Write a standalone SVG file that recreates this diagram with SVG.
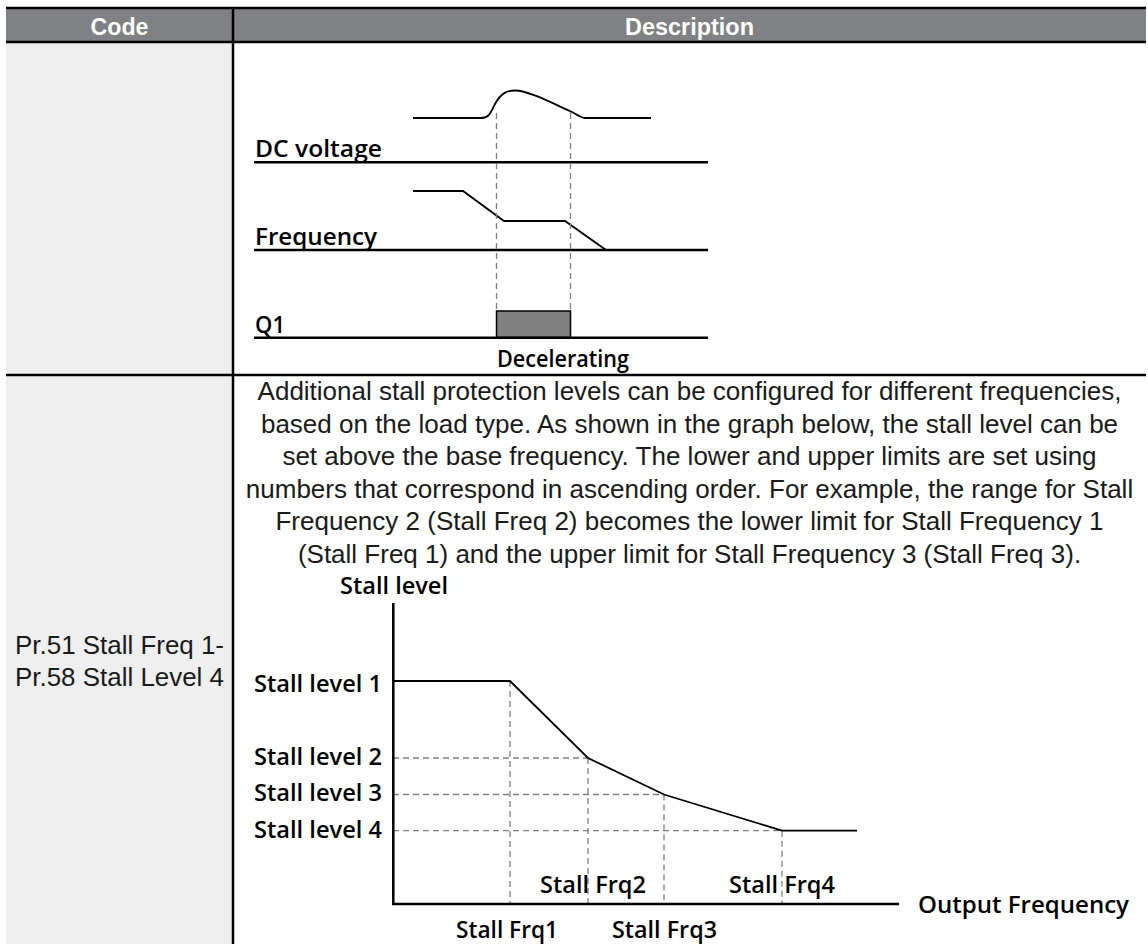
<svg xmlns="http://www.w3.org/2000/svg" width="1148" height="944" viewBox="0 0 1148 944">
<style>
.hdr{font-family:"Liberation Sans",Arial,sans-serif;font-weight:bold;font-size:24px;fill:#ffffff}
.body{font-family:"Liberation Sans",Arial,sans-serif;font-size:26px;fill:#1a1a1a}
.lbl{font-family:"Open Sans","Noto Sans",sans-serif;font-weight:600;font-size:24px;fill:#000}
.tl{font-family:"Open Sans","Noto Sans",sans-serif;font-weight:600;font-size:22.5px;fill:#000}
.rule{stroke:#000;stroke-width:2.5;fill:none}
.sig{stroke:#000;stroke-width:1.8;fill:none}
.dash{stroke:#808080;stroke-width:1.3;stroke-dasharray:6 4;fill:none}
</style>
<rect width="1148" height="944" fill="#ffffff"/>
<g id="table">
  <rect x="6" y="42" width="227" height="902" fill="#efefef"/>
  <rect x="6" y="8" width="1140" height="34" fill="#808184"/>
  <line class="rule" x1="6" y1="8" x2="1146" y2="8"/>
  <line class="rule" x1="6" y1="42" x2="1146" y2="42"/>
  <line class="rule" x1="233" y1="8" x2="233" y2="944"/>
  <line class="rule" x1="6" y1="375" x2="1146" y2="375"/>
  <text class="hdr" x="119.5" y="35" text-anchor="middle" textLength="58" lengthAdjust="spacingAndGlyphs">Code</text>
  <text class="hdr" x="689.5" y="35" text-anchor="middle" textLength="129" lengthAdjust="spacingAndGlyphs">Description</text>
  <text class="body" x="15" y="654" textLength="209" lengthAdjust="spacingAndGlyphs">Pr.51 Stall Freq 1-</text>
  <text class="body" x="15" y="686" textLength="209" lengthAdjust="spacingAndGlyphs">Pr.58 Stall Level 4</text>
</g>
<g id="timing">
  <text class="tl" x="255" y="157" textLength="127" lengthAdjust="spacingAndGlyphs">DC voltage</text>
  <line class="rule" x1="254" y1="162.3" x2="708" y2="162.3"/>
  <path class="sig" d="M413,118 H482 C489,118 491,112 495,104 C501,93 507,90.5 515,90.5 C528,90.5 552,103 572,112 C576,114 580,117 584,118 H651"/>
  <text class="tl" x="255" y="245" textLength="122" lengthAdjust="spacingAndGlyphs">Frequency</text>
  <line class="rule" x1="254" y1="250" x2="708" y2="250"/>
  <path class="sig" d="M413,191 H463 L504,221 H565 L606,250"/>
  <line class="dash" x1="496.5" y1="113" x2="496.5" y2="311"/>
  <line class="dash" x1="570.5" y1="113" x2="570.5" y2="311"/>
  <text class="tl" x="255" y="333" textLength="30" lengthAdjust="spacingAndGlyphs">Q1</text>
  <rect x="496.5" y="311" width="74" height="26.5" fill="#808080" stroke="#000" stroke-width="1.5"/>
  <line class="rule" x1="254" y1="337.7" x2="708" y2="337.7"/>
  <text class="tl" x="497" y="367" textLength="132" lengthAdjust="spacingAndGlyphs">Decelerating</text>
</g>
<g id="paragraph" class="body" text-anchor="middle">
  <text x="689.5" y="400">Additional stall protection levels can be configured for different frequencies,</text>
  <text x="689.5" y="432.6">based on the load type. As shown in the graph below, the stall level can be</text>
  <text x="689.5" y="465.2">set above the base frequency. The lower and upper limits are set using</text>
  <text x="689.5" y="497.8">numbers that correspond in ascending order. For example, the range for Stall</text>
  <text x="689.5" y="530.4">Frequency 2 (Stall Freq 2) becomes the lower limit for Stall Frequency 1</text>
  <text x="689.5" y="563">(Stall Freq 1) and the upper limit for Stall Frequency 3 (Stall Freq 3).</text>
</g>
<g id="graph">
  <line class="dash" x1="393" y1="758" x2="588" y2="758"/>
  <line class="dash" x1="393" y1="794.5" x2="664" y2="794.5"/>
  <line class="dash" x1="393" y1="830.7" x2="782" y2="830.7"/>
  <line class="dash" x1="510" y1="681" x2="510" y2="904"/>
  <line class="dash" x1="588" y1="758" x2="588" y2="904"/>
  <line class="dash" x1="664" y1="794.5" x2="664" y2="904"/>
  <line class="dash" x1="782" y1="830.7" x2="782" y2="904"/>
  <line class="rule" x1="393.3" y1="603" x2="393.3" y2="905"/>
  <line class="rule" x1="392" y1="904" x2="899" y2="904"/>
  <path class="sig" d="M393,681 H510 L588,758 L664,794.5 L782,830.7 H857"/>
  <text class="lbl" x="340" y="594" textLength="108" lengthAdjust="spacingAndGlyphs">Stall level</text>
  <text class="lbl" x="254" y="692" textLength="128" lengthAdjust="spacingAndGlyphs">Stall level 1</text>
  <text class="lbl" x="254" y="764.5" textLength="128" lengthAdjust="spacingAndGlyphs">Stall level 2</text>
  <text class="lbl" x="254" y="801" textLength="128" lengthAdjust="spacingAndGlyphs">Stall level 3</text>
  <text class="lbl" x="254" y="837.5" textLength="128" lengthAdjust="spacingAndGlyphs">Stall level 4</text>
  <text class="lbl" x="540" y="893" textLength="106" lengthAdjust="spacingAndGlyphs">Stall Frq2</text>
  <text class="lbl" x="729" y="893" textLength="106" lengthAdjust="spacingAndGlyphs">Stall Frq4</text>
  <text class="lbl" x="456" y="938" textLength="102" lengthAdjust="spacingAndGlyphs">Stall Frq1</text>
  <text class="lbl" x="612" y="938" textLength="105" lengthAdjust="spacingAndGlyphs">Stall Frq3</text>
  <text class="lbl" x="918" y="913" textLength="211" lengthAdjust="spacingAndGlyphs">Output Frequency</text>
</g>
</svg>
